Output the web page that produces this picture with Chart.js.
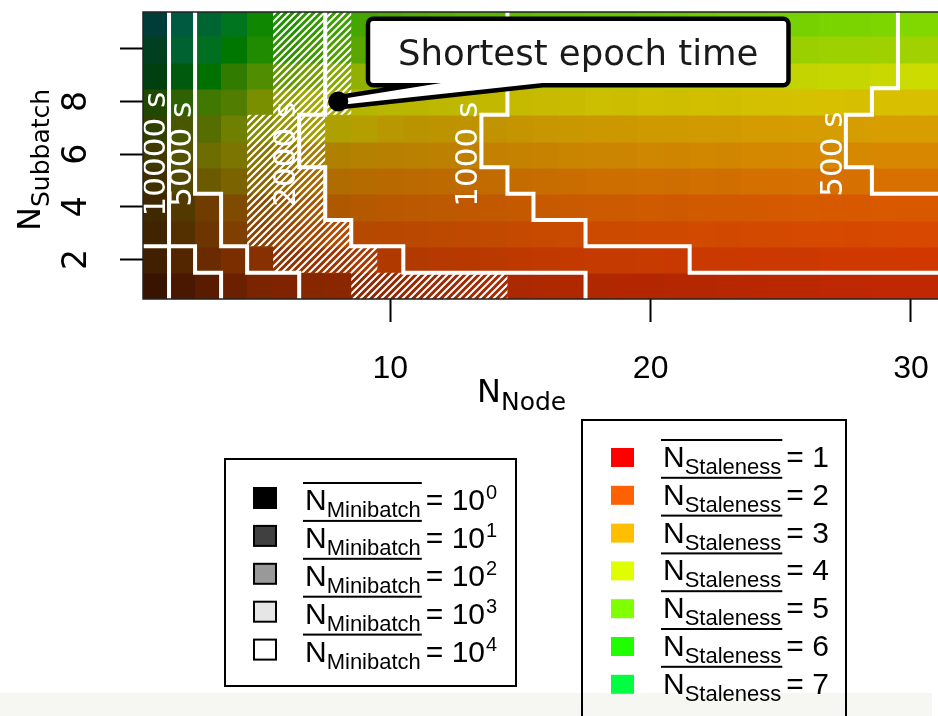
<!DOCTYPE html>
<html>
<head>
<meta charset="utf-8">
<script src="https://cdn.jsdelivr.net/npm/chart.js@4.4.1/dist/chart.umd.min.js"></script>
<style>
  html, body { margin: 0; padding: 0; background: #fff; overflow: hidden; }
  #wrap { width: 960px; height: 716px; }
</style>
</head>
<body>
<div id="wrap"><canvas id="heat" width="960" height="716"></canvas></div>
<script>
// grid axes
const nodes = [1,2,3,4,5,6,7,8,9,10,11,12,13,14,15,16,17,18,19,20,21,22,23,24,25,26,27,28,29,30,31];
const subbatches = [1,2,3,4,5,6,7,8,9,10,11];
const xTicks = [10, 20, 30];
const yTicks = [2, 4, 6, 8, 10];
const yTickLabels = ["2", "4", "6", "8", ""];

// mean staleness per cell (row = subbatch 1..11, column = node 1..31)
const staleness = [
  [1.93,1.84,1.84,1.8,1.8,1.73,1.76,1.76,1.73,1.71,1.69,1.67,1.65,1.63,1.62,1.61,1.6,1.6,1.59,1.59,1.58,1.58,1.58,1.57,1.57,1.57,1.56,1.56,1.56,1.56,1.56],
  [2.33,2.19,2.06,2.0,1.94,1.92,1.9,1.89,1.88,1.86,1.85,1.84,1.83,1.82,1.81,1.8,1.8,1.79,1.78,1.78,1.77,1.76,1.76,1.75,1.75,1.74,1.74,1.73,1.73,1.72,1.72],
  [2.5,2.5,2.31,2.33,2.25,2.2,2.16,2.12,2.07,2.05,2.04,2.03,2.02,2.01,2.0,1.99,1.98,1.97,1.96,1.95,1.94,1.94,1.93,1.92,1.92,1.91,1.91,1.9,1.9,1.89,1.89],
  [2.67,2.87,2.43,2.58,2.48,2.43,2.4,2.36,2.32,2.29,2.27,2.25,2.23,2.22,2.21,2.2,2.19,2.18,2.17,2.16,2.15,2.14,2.14,2.13,2.12,2.12,2.11,2.11,2.1,2.09,2.09],
  [3.0,3.27,3.21,3.18,2.98,2.83,2.72,2.63,2.58,2.54,2.52,2.5,2.49,2.48,2.47,2.46,2.45,2.44,2.43,2.43,2.42,2.42,2.41,2.41,2.4,2.4,2.39,2.39,2.38,2.38,2.38],
  [3.41,3.67,3.67,3.5,3.25,3.13,3.03,2.96,2.9,2.86,2.83,2.81,2.79,2.78,2.77,2.76,2.75,2.74,2.73,2.73,2.72,2.72,2.71,2.71,2.7,2.7,2.69,2.69,2.68,2.68,2.68],
  [4.33,4.11,4.24,4.0,3.78,3.62,3.55,3.45,3.32,3.2,3.12,3.08,3.05,3.03,3.02,3.01,3.0,2.99,2.99,2.98,2.98,2.97,2.97,2.96,2.96,2.96,2.95,2.95,2.95,2.94,2.94],
  [5.15,5.0,4.91,4.6,4.07,3.88,3.78,3.72,3.68,3.64,3.61,3.58,3.56,3.54,3.52,3.5,3.49,3.48,3.47,3.46,3.45,3.44,3.43,3.42,3.41,3.4,3.39,3.38,3.37,3.36,3.36],
  [7.0,6.73,6.33,5.27,4.81,4.55,4.38,4.24,4.14,4.08,4.04,4.01,3.99,3.97,3.96,3.95,3.94,3.93,3.92,3.91,3.91,3.9,3.9,3.89,3.89,3.88,3.88,3.87,3.87,3.86,3.86],
  [7.67,7.67,7.1,6.33,5.71,5.4,5.18,5.0,4.9,4.82,4.76,4.72,4.68,4.64,4.6,4.57,4.54,4.51,4.48,4.46,4.44,4.42,4.4,4.38,4.36,4.34,4.33,4.32,4.3,4.29,4.28],
  [8.82,8.24,7.62,7.04,6.02,5.7,5.44,5.3,5.22,5.17,5.13,5.1,5.08,5.06,5.04,5.02,5.0,4.98,4.96,4.94,4.92,4.9,4.88,4.86,4.84,4.82,4.8,4.79,4.78,4.76,4.75]
];

// log10 of mean minibatch count per cell
const minibatchExp = [
  [0.88,1.11,1.29,1.49,1.66,1.71,1.8,1.83,1.89,1.94,2.0,2.07,2.13,2.2,2.23,2.27,2.3,2.3,2.33,2.33,2.37,2.37,2.4,2.4,2.43,2.43,2.47,2.47,2.5,2.5,2.5],
  [1.0,1.23,1.49,1.66,1.8,1.89,1.97,2.07,2.23,2.3,2.33,2.37,2.4,2.43,2.47,2.5,2.53,2.57,2.57,2.6,2.6,2.63,2.63,2.67,2.67,2.67,2.7,2.7,2.7,2.73,2.73],
  [1.0,1.23,1.51,1.71,1.83,2.0,2.13,2.3,2.37,2.4,2.43,2.47,2.5,2.53,2.57,2.6,2.63,2.67,2.67,2.7,2.7,2.73,2.73,2.77,2.77,2.8,2.8,2.8,2.83,2.83,2.83],
  [1.0,1.2,1.54,1.71,1.83,2.0,2.13,2.27,2.35,2.4,2.43,2.47,2.5,2.53,2.57,2.6,2.63,2.65,2.67,2.7,2.7,2.73,2.73,2.75,2.77,2.8,2.8,2.8,2.83,2.83,2.83],
  [1.0,1.23,1.5,1.66,1.83,2.0,2.13,2.3,2.37,2.4,2.43,2.47,2.5,2.53,2.57,2.6,2.63,2.67,2.67,2.7,2.7,2.73,2.73,2.77,2.77,2.8,2.8,2.8,2.83,2.83,2.83],
  [1.0,1.23,1.51,1.68,1.83,2.0,2.13,2.3,2.37,2.4,2.43,2.47,2.5,2.53,2.57,2.6,2.63,2.67,2.67,2.7,2.7,2.73,2.73,2.77,2.77,2.8,2.8,2.8,2.83,2.83,2.83],
  [1.0,1.26,1.51,1.71,1.83,2.0,2.13,2.27,2.37,2.4,2.43,2.47,2.5,2.53,2.57,2.6,2.63,2.67,2.67,2.7,2.7,2.73,2.73,2.77,2.77,2.8,2.8,2.8,2.83,2.83,2.83],
  [1.09,1.37,1.63,1.69,1.89,2.07,2.2,2.3,2.37,2.4,2.43,2.47,2.5,2.53,2.57,2.6,2.63,2.67,2.67,2.7,2.7,2.73,2.73,2.77,2.77,2.8,2.8,2.8,2.83,2.83,2.83],
  [1.0,1.29,1.54,1.66,1.86,1.97,2.07,2.2,2.3,2.37,2.4,2.43,2.47,2.5,2.53,2.57,2.6,2.63,2.67,2.67,2.7,2.7,2.73,2.73,2.77,2.77,2.8,2.8,2.83,2.87,2.87],
  [1.0,1.37,1.54,1.63,1.83,1.89,1.97,2.07,2.17,2.23,2.3,2.35,2.4,2.43,2.47,2.5,2.53,2.57,2.6,2.6,2.63,2.63,2.67,2.67,2.7,2.7,2.73,2.73,2.73,2.73,2.73],
  [0.96,1.29,1.43,1.6,1.8,1.89,1.97,2.07,2.17,2.23,2.3,2.35,2.4,2.43,2.5,2.53,2.57,2.6,2.6,2.63,2.63,2.67,2.7,2.7,2.73,2.73,2.77,2.77,2.8,2.83,2.83]
];

// epoch time contours: per subbatch row, how many nodes (from the left) are above the level
const contourLevels = [20000, 10000, 5000, 2000, 1000, 500];
const contourLabels = [null, "10000 s", "5000 s", "2000 s", "1000 s", "500 s"];
const contourCounts = [
  [1, 1, 0, 0, 0, 0, 0, 0, 0, 0, 0],
  [3, 2, 1, 1, 1, 1, 1, 1, 1, 1, 1],
  [6, 4, 3, 3, 2, 2, 2, 2, 2, 2, 2],
  [17, 10, 8, 7, 7, 6, 6, 7, 7, 7, 7],
  [32, 21, 17, 15, 14, 13, 13, 14, 14, 14, 14],
  [32, 32, 32, 32, 28, 27, 27, 28, 29, 29, 29]
];
const contourLabelRow = 6;

// hatched (near-optimal) cells per subbatch row
const hatchFrom = [9, 6, 5, 5, 5, 5, 5, 6, 6, 6, 6];
const hatchTo = [14, 9, 8, 7, 7, 7, 7, 8, 8, 8, 8];

const fastest = { x: 8, y: 8 };
const calloutText = "Shortest epoch time";

const stalenessLevels = [1, 2, 3, 4, 5, 6, 7];
const minibatchLevels = [0, 1, 2, 3, 4];

const GREYS = [0, 0.25, 0.6, 0.9, 1];
const GOTHIC = '"DejaVu Sans", "Noto Sans", sans-serif';
const HELV = '"Liberation Sans", Arial, sans-serif';

function greyOf(e) {
  const i = Math.max(0, Math.min(3, Math.floor(e)));
  const t = e - i;
  return GREYS[i] + (GREYS[i + 1] - GREYS[i]) * t;
}

function hsv(h, s, v) {
  const c = v * s;
  const hp = ((h % 360) + 360) % 360 / 60;
  const xx = c * (1 - Math.abs((hp % 2) - 1));
  let r = 0, g = 0, b = 0;
  if (hp < 1) { r = c; g = xx; }
  else if (hp < 2) { r = xx; g = c; }
  else if (hp < 3) { g = c; b = xx; }
  else if (hp < 4) { g = xx; b = c; }
  else if (hp < 5) { r = xx; b = c; }
  else { r = c; b = xx; }
  const m = v - c;
  return "rgb(" + Math.round((r + m) * 255) + "," + Math.round((g + m) * 255) + "," + Math.round((b + m) * 255) + ")";
}

function cellColor(st, mb) {
  return hsv(22.5 * (st - 1), 1, greyOf(mb));
}

function drawMeanTerm(ctx, x, base, sub, tail, sup) {
  ctx.fillStyle = "#000";
  ctx.textAlign = "left";
  ctx.textBaseline = "alphabetic";
  ctx.font = "30px " + HELV;
  ctx.fillText("N", x, base);
  const nW = ctx.measureText("N").width;
  ctx.font = "22px " + HELV;
  ctx.fillText(sub, x + nW, base + 7);
  const sW = ctx.measureText(sub).width;
  ctx.fillRect(x - 2, base - 28, nW + sW + 3, 2);
  ctx.font = "30px " + HELV;
  const tx = x + nW + sW + 5;
  ctx.fillText(tail, tx, base);
  if (sup !== undefined) {
    const tW = ctx.measureText(tail).width;
    ctx.font = "20px " + HELV;
    ctx.fillText(sup, tx + tW + 1, base - 11);
  }
}

const heatPlugin = {
  id: "heat",
  beforeDraw(chart) {
    const ctx = chart.ctx;
    ctx.save();
    ctx.fillStyle = "#f6f6f2";
    ctx.fillRect(0, 693, 932, 23);
    ctx.restore();
  },
  beforeDatasetsDraw(chart) {
    const { ctx, chartArea: a, scales: { x, y } } = chart;
    ctx.save();
    ctx.beginPath();
    ctx.rect(a.left, a.top, a.right - a.left, a.bottom - a.top);
    ctx.clip();

    // cells
    subbatches.forEach((sb, r) => {
      nodes.forEach((nd, c) => {
        const x0 = x.getPixelForValue(nd - 0.5), x1 = x.getPixelForValue(nd + 0.5);
        const y0 = y.getPixelForValue(sb + 0.5), y1 = y.getPixelForValue(sb - 0.5);
        ctx.fillStyle = cellColor(staleness[r][c], minibatchExp[r][c]);
        ctx.fillRect(Math.floor(x0), Math.floor(y0), Math.ceil(x1) - Math.floor(x0) + 0.5, Math.ceil(y1) - Math.floor(y0) + 0.5);
      });
    });

    // hatching
    ctx.save();
    ctx.beginPath();
    subbatches.forEach((sb, r) => {
      const x0 = x.getPixelForValue(hatchFrom[r] - 0.5), x1 = x.getPixelForValue(hatchTo[r] + 0.5);
      const y0 = y.getPixelForValue(sb + 0.5), y1 = y.getPixelForValue(sb - 0.5);
      ctx.rect(x0, y0, x1 - x0, y1 - y0);
    });
    ctx.clip();
    ctx.strokeStyle = "#fff";
    ctx.lineWidth = 2;
    ctx.beginPath();
    for (let c = a.left + a.top; c <= a.right + a.bottom; c += 7) {
      ctx.moveTo(c - a.top, a.top);
      ctx.lineTo(c - a.bottom, a.bottom);
    }
    ctx.stroke();
    ctx.restore();

    // contour lines
    ctx.strokeStyle = "#fff";
    ctx.lineWidth = 4;
    ctx.lineCap = "square";
    contourCounts.forEach(counts => {
      ctx.beginPath();
      subbatches.forEach((sb, r) => {
        if (counts[r] > 0) {
          const bx = x.getPixelForValue(counts[r] + 0.5);
          ctx.moveTo(bx, y.getPixelForValue(sb + 0.5));
          ctx.lineTo(bx, y.getPixelForValue(sb - 0.5));
        }
        if (r + 1 < subbatches.length && counts[r + 1] !== counts[r]) {
          const yy = y.getPixelForValue(sb + 0.5);
          ctx.moveTo(x.getPixelForValue(Math.min(counts[r], counts[r + 1]) + 0.5), yy);
          ctx.lineTo(x.getPixelForValue(Math.max(counts[r], counts[r + 1]) + 0.5), yy);
        }
      });
      ctx.stroke();
    });

    // contour labels
    ctx.fillStyle = "#fff";
    ctx.font = "31px " + GOTHIC;
    ctx.textAlign = "center";
    ctx.textBaseline = "middle";
    const li = subbatches.indexOf(contourLabelRow);
    contourCounts.forEach((counts, k) => {
      if (!contourLabels[k]) return;
      ctx.save();
      ctx.translate(x.getPixelForValue(counts[li]) + 1, y.getPixelForValue(contourLabelRow));
      ctx.rotate(-Math.PI / 2);
      ctx.fillText(contourLabels[k], 0, 0);
      ctx.restore();
    });
    ctx.restore();

    // plot box
    ctx.save();
    ctx.strokeStyle = "#222";
    ctx.lineWidth = 1.5;
    ctx.strokeRect(a.left, a.top, a.right - a.left, a.bottom - a.top);
    ctx.restore();

    // callout
    const px = x.getPixelForValue(fastest.x), py = y.getPixelForValue(fastest.y);
    ctx.save();
    const bx = px + 32, by = a.top + 9, bw = 416, bh = 62;
    const tailL = px + 103, tailR = px + 204;
    const shape = () => {
      ctx.beginPath();
      ctx.roundRect(bx, by, bw, bh, 3);
      ctx.moveTo(tailL, by + bh);
      ctx.lineTo(px + 6, py - 3);
      ctx.lineTo(px + 6, py + 3);
      ctx.lineTo(tailR, by + bh);
      ctx.closePath();
    };
    shape();
    ctx.strokeStyle = "#000";
    ctx.lineWidth = 9;
    ctx.lineJoin = "round";
    ctx.stroke();
    shape();
    ctx.fillStyle = "#fff";
    ctx.fill();
    ctx.font = "35px " + GOTHIC;
    const w = ctx.measureText(calloutText).width;
    const size = 35 * 360 / w;
    ctx.font = size.toFixed(1) + "px " + GOTHIC;
    ctx.fillStyle = "#1a1a1a";
    ctx.textAlign = "center";
    ctx.textBaseline = "alphabetic";
    ctx.fillText(calloutText, bx + bw / 2, by + 44);
    ctx.restore();
  },
  afterDraw(chart) {
    const { ctx, chartArea: a, scales: { y } } = chart;
    ctx.save();
    ctx.fillStyle = "#000";

    // y tick labels
    ctx.font = "33px " + GOTHIC;
    ctx.textAlign = "center";
    ctx.textBaseline = "middle";
    yTicks.forEach((v, i) => {
      if (!yTickLabels[i]) return;
      ctx.save();
      ctx.translate(a.left - 66, y.getPixelForValue(v));
      ctx.rotate(-Math.PI / 2);
      ctx.fillText(yTickLabels[i], 0, 0);
      ctx.restore();
    });

    // axis titles
    ctx.textAlign = "left";
    ctx.textBaseline = "alphabetic";
    ctx.font = "32px " + GOTHIC;
    ctx.fillText("N", 477, 402);
    let nW = ctx.measureText("N").width;
    ctx.font = "25px " + GOTHIC;
    ctx.fillText("Node", 477 + nW, 410);

    ctx.save();
    ctx.translate(40, 231);
    ctx.rotate(-Math.PI / 2);
    ctx.font = "32px " + GOTHIC;
    ctx.fillText("N", 0, 0);
    nW = ctx.measureText("N").width;
    ctx.font = "25px " + GOTHIC;
    ctx.fillText("Subbatch", nW, 9);
    ctx.restore();

    // minibatch legend
    ctx.strokeStyle = "#000";
    ctx.lineWidth = 2;
    ctx.strokeRect(225, 459, 291, 227);
    minibatchLevels.forEach((e, i) => {
      const top = 483 + i * 37.9;
      const g = Math.round(greyOf(e) * 255);
      ctx.fillStyle = "rgb(" + g + "," + g + "," + g + ")";
      ctx.fillRect(254, top + 5, 22, 20);
      ctx.strokeRect(254, top + 5, 22, 20);
      drawMeanTerm(ctx, 305, top + 27, "Minibatch", "= 10", String(e));
    });

    // staleness legend
    ctx.strokeStyle = "#000";
    ctx.lineWidth = 2;
    ctx.strokeRect(582, 420, 264, 330);
    stalenessLevels.forEach((s, i) => {
      const top = 441 + i * 37.8;
      ctx.fillStyle = hsv(22.5 * (s - 1), 1, 1);
      ctx.fillRect(611, top + 7, 23, 19);
      drawMeanTerm(ctx, 663, top + 26, "Staleness", "= " + s);
    });
    ctx.restore();
  }
};

const axisGrid = { display: true, drawOnChartArea: false, drawTicks: true, tickLength: 23, tickWidth: 2, tickColor: "#000" };

new Chart(document.getElementById("heat").getContext("2d"), {
  type: "scatter",
  data: {
    datasets: [{
      data: [fastest],
      pointRadius: 10,
      pointHoverRadius: 10,
      backgroundColor: "#000",
      borderWidth: 0
    }]
  },
  options: {
    responsive: false,
    animation: false,
    events: [],
    layout: { padding: { left: 0, top: 12, right: 7, bottom: 0 } },
    plugins: { legend: { display: false }, tooltip: { enabled: false } },
    scales: {
      x: {
        type: "linear",
        min: 0.5,
        max: 31.5,
        afterBuildTicks: s => { s.ticks = xTicks.map(v => ({ value: v })); },
        afterFit: s => { s.height = 716 - 299; },
        ticks: { color: "#000", font: { family: HELV, size: 32 }, padding: 28, maxRotation: 0 },
        grid: axisGrid,
        border: { display: false }
      },
      y: {
        type: "linear",
        min: 0.5,
        max: 11.4,
        afterBuildTicks: s => { s.ticks = yTicks.map(v => ({ value: v })); },
        afterFit: s => { s.width = 143; },
        ticks: { display: false },
        grid: axisGrid,
        border: { display: false }
      }
    }
  },
  plugins: [heatPlugin]
});
</script>
</body>
</html>
